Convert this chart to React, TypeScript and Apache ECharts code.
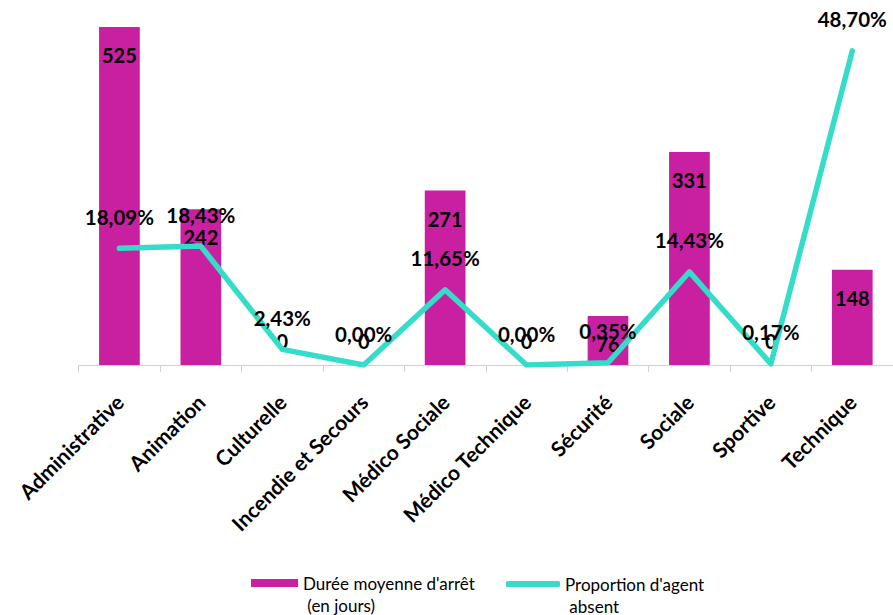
import React, { useEffect, useRef } from "react";
import * as echarts from "echarts";

const categories = [
  "Administrative",
  "Animation",
  "Culturelle",
  "Incendie et Secours",
  "Médico Sociale",
  "Médico Technique",
  "Sécurité",
  "Sociale",
  "Sportive",
  "Technique",
];
const durations = [525, 242, 0, 0, 271, 0, 76, 331, 0, 148];
const proportions = [18.09, 18.43, 2.43, 0.0, 11.65, 0.0, 0.35, 14.43, 0.17, 48.7];

const barName = "Durée moyenne d'arrêt";
const lineName = "Proportion d'agent";
// leading empty line keeps the first text line level with the legend icon
const barLegendText = "\nDurée moyenne d'arrêt\n (en jours)";
const lineLegendText = "\nProportion d'agent\n absent";

const FONT = "Lato";

export default function App() {
  const ref = useRef<HTMLDivElement>(null);
  useEffect(() => {
    if (!ref.current) return;
    const chart = echarts.init(ref.current, undefined, { renderer: "svg" });
    const labelStyle = {
      fontFamily: FONT,
      fontWeight: "bold",
      fontSize: 20,
      color: "#000",
    };
    const legendText = {
      fontFamily: FONT,
      fontSize: 17,
      color: "#000",
      lineHeight: 22,
    };
    chart.setOption({
      animation: false,
      backgroundColor: "#fff",
      grid: { left: 78.7, right: -5.7, top: 27, bottom: 250, containLabel: false },
      legend: [
        {
          data: [{ name: barName, icon: "rect" }],
          left: 246,
          top: 545,
          itemWidth: 47,
          itemHeight: 8,
          itemGap: 0,
          formatter: () => barLegendText,
          textStyle: legendText,
        },
        {
          data: [{ name: lineName, icon: "roundRect" }],
          left: 501,
          top: 546,
          itemWidth: 54,
          itemHeight: 6,
          itemGap: 0,
          formatter: () => lineLegendText,
          textStyle: legendText,
        },
      ],
      xAxis: {
        type: "category",
        data: categories,
        axisLine: { lineStyle: { color: "#D0D0D0", width: 1 } },
        axisTick: { show: true, length: 7, lineStyle: { color: "#D0D0D0" } },
        axisLabel: {
          interval: 0,
          rotate: 45,
          margin: 33,
          fontFamily: FONT,
          fontWeight: "bold",
          fontSize: 21,
          color: "#000",
        },
      },
      yAxis: [
        { type: "value", min: 0, max: 525, show: false, splitLine: { show: false } },
        { type: "value", min: 0, max: 52.4, show: false, splitLine: { show: false } },
      ],
      series: [
        {
          name: barName,
          type: "bar",
          yAxisIndex: 0,
          barWidth: "50%",
          itemStyle: { color: "#C820A0" },
          data: durations.map((v) =>
            v === 0
              ? { value: v, label: { position: "top", distance: 14 } }
              : { value: v }
          ),
          label: {
            show: true,
            position: "insideTop",
            distance: 18,
            ...labelStyle,
          },
          z: 2,
        },
        {
          name: lineName,
          type: "line",
          yAxisIndex: 1,
          data: proportions,
          symbol: "circle",
          symbolSize: 4,
          showSymbol: true,
          itemStyle: { color: "#35DCC9" },
          lineStyle: { color: "#35DCC9", width: 5.5, cap: "round", join: "round" },
          label: {
            show: true,
            position: "top",
            distance: 19,
            formatter: (p: any) => Number(p.value).toFixed(2).replace(".", ",") + "%",
            ...labelStyle,
            fontSize: 20.5,
          },
          labelLayout: { hideOverlap: false },
          z: 3,
        },
      ],
    });
    return () => chart.dispose();
  }, []);
  return (
    <div
      ref={ref}
      style={{ position: "fixed", left: 0, top: 0, width: 893, height: 615 }}
    />
  );
}
